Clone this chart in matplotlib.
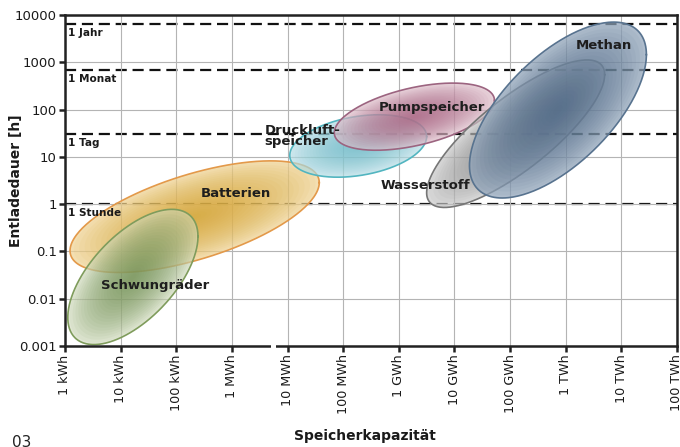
import numpy as np
import matplotlib
matplotlib.use("Agg")
import matplotlib.pyplot as plt
import matplotlib.transforms as mtransforms

# ---------------- data ----------------
names = ["Batterien", "Schwungräder", "Druckluft-\nspeicher", "Pumpspeicher", "Wasserstoff", "Methan"]
# ellipse centres (log10 of kWh, log10 of hours)
center_log_cap = [2.33, 1.22, 5.27, 6.28, 8.10, 8.86]
center_log_dur = [-0.265, -1.54, 1.23, 1.85, 1.49, 1.99]
# half extents in decades and correlation (tilt)
half_log_cap = [2.24, 1.17, 1.23, 1.44, 1.60, 1.59]
half_log_dur = [1.18, 1.43, 0.66, 0.71, 1.56, 1.86]
tilt = [0.61, 0.60, 0.30, 0.48, 0.80, 0.63]
# label anchor positions (kWh, h)
label_cap = [1175, 41, 3900, 3.9e6, 3.0e6, 4.8e9]
label_dur = [1.71, 0.0192, 27.6, 108, 2.53, 2230]
label_ha = ["center", "center", "left", "center", "center", "center"]

border_col = ["#E3994A", "#7F9C5C", "#52B5C0", "#9C6480", "#767676", "#58738F"]
light_col = ["#EFD292", "#CDD8B8", "#B5DDE4", "#DDBDC9", "#C6C6C6", "#8FA3B9"]
dark_col = ["#D6A22A", "#6A8B4A", "#6DBCC9", "#A55B7C", "#828282", "#4A6482"]
base_alpha = [0.70, 0.62, 0.66, 0.66, 0.66, 0.72]

ref_values = [6500, 700, 30, 1]
ref_labels = ["1 Jahr", "1 Monat", "1 Tag", "1 Stunde"]

x_ticks = [1, 1e1, 1e2, 1e3, 1e4, 1e5, 1e6, 1e7, 1e8, 1e9, 1e10, 1e11]
x_ticklabels = ["1 kWh", "10 kWh", "100 kWh", "1 MWh", "10 MWh", "100 MWh",
                "1 GWh", "10 GWh", "100 GWh", "1 TWh", "10 TWh", "100 TWh"]
y_ticks = [1e-3, 1e-2, 1e-1, 1, 10, 100, 1000, 10000]
y_ticklabels = ["0.001", "0.01", "0.1", "1", "10", "100", "1000", "10000"]

# ---------------- figure ----------------
W, H = 680, 447
fig = plt.figure(figsize=(W / 100, H / 100), dpi=100)
ax = fig.add_axes([65 / W, 1 - 346 / H, 612 / W, 331 / H])
ax.set_xscale("log")
ax.set_yscale("log")
ax.set_xlim(1, 1e11)
ax.set_ylim(1e-3, 1e4)

ax.grid(True, which="major", color="#B4B4B4", lw=0.8, zorder=0)
ax.minorticks_off()

for v in ref_values:
    ax.axhline(v, color="#111111", lw=1.6, dashes=(5.0, 2.6), zorder=1)
for v, lab in zip(ref_values, ref_labels):
    ax.annotate(lab, xy=(1, v), xytext=(2, -3), textcoords="offset points",
                ha="left", va="top", fontsize=7.6, fontweight="bold", color="#1a1a1a", zorder=19)

t = np.linspace(0, 2 * np.pi, 300)
nsteps = 22
for i in range(len(names)):
    cx, cy = center_log_cap[i], center_log_dur[i]
    a, b, r = half_log_cap[i], half_log_dur[i], tilt[i]

    def shape(s):
        lx = cx + a * s * np.cos(t)
        ly = cy + b * s * (r * np.cos(t) + np.sqrt(1 - r * r) * np.sin(t))
        return 10 ** lx, 10 ** ly

    z = 3 + i
    xs, ys = shape(1.0)
    ax.fill(xs, ys, color=light_col[i], alpha=base_alpha[i], lw=0, zorder=z)
    for s in np.linspace(0.97, 0.05, nsteps):
        xs2, ys2 = shape(s)
        ax.fill(xs2, ys2, color=dark_col[i], alpha=0.055, lw=0, zorder=z)
    ax.plot(xs, ys, color=border_col[i], lw=1.2, zorder=z)

for i in range(len(names)):
    ax.text(label_cap[i], label_dur[i], names[i], ha=label_ha[i], va="center",
            fontsize=9.5, fontweight="bold", color="#1e1e1e", zorder=20,
            linespacing=0.85)

ax.set_xticks(x_ticks)
ax.set_xticklabels(x_ticklabels, rotation=90, fontsize=9.2)
ax.set_yticks(y_ticks)
ax.set_yticklabels(y_ticklabels, fontsize=9.5)
ax.tick_params(axis="both", which="major", direction="out", length=4, width=1.8,
               color="#222222", labelcolor="#1a1a1a", pad=2)
for sp in ax.spines.values():
    sp.set_color("#222222")
    sp.set_linewidth(1.8)
    sp.set_zorder(25)

# small break in the x axis line
trans = mtransforms.blended_transform_factory(ax.transAxes, ax.transAxes)
ax.plot([0.337, 0.345], [0, 0], transform=trans, color="white", lw=3,
        solid_capstyle="butt", clip_on=False, zorder=30)

ax.set_xlabel("Speicherkapazität", fontsize=10, fontweight="bold", color="#1a1a1a")
ax.set_ylabel("Entladedauer [h]", fontsize=10, fontweight="bold", color="#1a1a1a")
ax.xaxis.set_label_coords(0.49, -(429 - 346) / 331)
ax.yaxis.set_label_coords(-(65 - 23) / 612, 0.5)

fig.text(12 / W, -3 / H, "03", fontsize=11, color="#222222", ha="left", va="bottom")

fig.savefig("out.png", dpi=100)
